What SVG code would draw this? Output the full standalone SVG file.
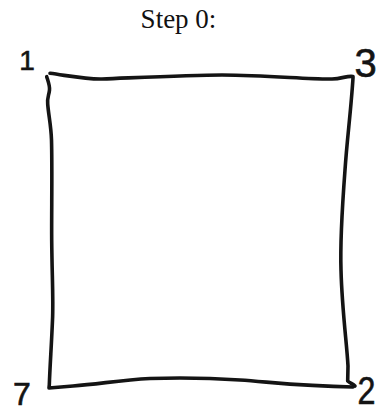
<svg xmlns="http://www.w3.org/2000/svg" width="376" height="413" viewBox="0 0 376 413">
  <style>
    .ink { fill: none; stroke: #141414; stroke-width: 3.6; stroke-linecap: round; stroke-linejoin: round; }
    .hand { font-family: "Liberation Sans", "DejaVu Sans", sans-serif; fill: #141414; stroke: #141414; stroke-width: 0.6; }
    .title { font-family: "Liberation Serif", "DejaVu Serif", serif; font-size: 27px; fill: #111; }
  </style>
  <rect width="376" height="413" fill="#ffffff"/>
  <g id="title">
    <text class="title" x="178.5" y="28" text-anchor="middle">Step 0:</text>
  </g>
  <g id="square">
    <path class="ink" d="M50,73.3 C70,76 88,79.5 102,79 C140,77.5 190,75 222,75 C270,75.5 310,79.5 332,79 C342,78.8 347,75.5 353,76.5 L353,78 C351,110 347,140 345,170 C342,210 340,240 341,270 C342,310 347,345 348,366 L347.7,381 C350,383 353,384 355,386"/>
    <path class="ink" d="M46.7,76.7 C48,81 50,86 49.5,90 C49,95 47,98 47.7,104 C48.5,115 51,125 51.5,140 C52.3,170 51.5,210 51.7,240 C52,275 53.5,300 52.5,320 C51.5,345 50,365 49.3,385 L49,388 L73,386 C100,384 120,380 150,378.5 C180,377.5 210,378 240,380 C270,382 300,386 353,387"/>
  </g>
  <g id="corner-1">
    <text class="hand" x="27" y="70" font-size="28" text-anchor="middle">1</text>
  </g>
  <g id="corner-3">
    <text class="hand" x="365.5" y="76.7" font-size="40" text-anchor="middle">3</text>
  </g>
  <g id="corner-7">
    <text class="hand" x="22" y="405" font-size="32" text-anchor="middle">7</text>
  </g>
  <g id="corner-2">
    <text class="hand" transform="translate(366.5,404) scale(0.85,1)" font-size="38" text-anchor="middle">2</text>
  </g>
</svg>
